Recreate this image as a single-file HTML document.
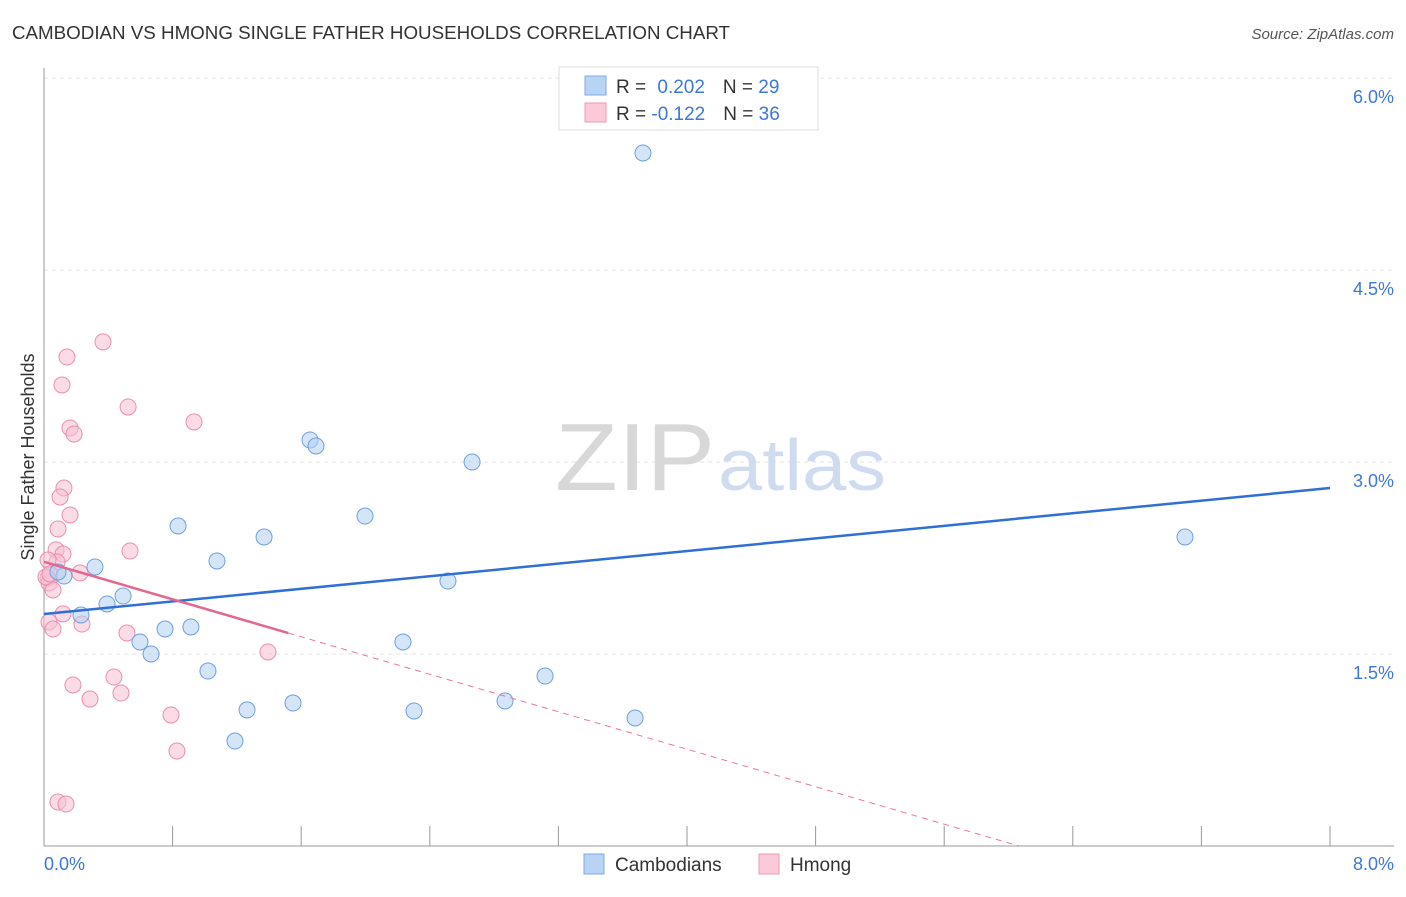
<!DOCTYPE html>
<html><head><meta charset="utf-8"><style>
body{margin:0;background:#fff;font-family:"Liberation Sans",sans-serif;}
svg text{font-family:"Liberation Sans",sans-serif;}
</style></head><body>
<svg id="chart" width="1406" height="892" xmlns="http://www.w3.org/2000/svg">
<text x="12" y="39" font-size="18" fill="#333" textLength="718" lengthAdjust="spacingAndGlyphs">CAMBODIAN VS HMONG SINGLE FATHER HOUSEHOLDS CORRELATION CHART</text>
<text x="1394" y="39" font-size="15" fill="#555" font-style="italic" text-anchor="end">Source: ZipAtlas.com</text>
<g id="grid"></g>
<text x="555" y="490" font-size="96" fill="#d8d8d8" textLength="160" lengthAdjust="spacingAndGlyphs" font-family="Liberation Serif">ZIP</text>
<text x="718" y="490" font-size="72" fill="#cfdcf0" textLength="168" lengthAdjust="spacingAndGlyphs">atlas</text>
<line x1="44" y1="68" x2="44" y2="846" stroke="#999"/>
<line x1="44" y1="846" x2="1394" y2="846" stroke="#999"/>
<g id="xticks"></g>
<g id="ylabels"></g>
<text x="44" y="870" font-size="18" fill="#3b78d8">0.0%</text>
<text x="1394" y="870" font-size="18" fill="#3b78d8" text-anchor="end">8.0%</text>
<text transform="translate(34,457) rotate(-90)" font-size="18" fill="#333" text-anchor="middle">Single Father Households</text>
<g id="points"></g>
<g id="lines"></g>
<g>
<rect x="559" y="67" width="259" height="63" fill="#fff" stroke="#ddd"/>
<rect x="585" y="76" width="21" height="19" fill="#b9d3f5" stroke="#7fa9e4"/>
<rect x="585" y="103" width="21" height="19" fill="#fbc9d8" stroke="#ee9ab5"/>
<text x="616" y="93" font-size="19" fill="#333">R = <tspan fill="#3b78d8" dx="6">0.202</tspan><tspan dx="18" fill="#333">N = </tspan><tspan fill="#3b78d8">29</tspan></text>
<text x="616" y="120" font-size="19" fill="#333">R = <tspan fill="#3b78d8">-0.122</tspan><tspan dx="18" fill="#333">N = </tspan><tspan fill="#3b78d8">36</tspan></text>
</g>
<g>
<rect x="584" y="854" width="20" height="20" fill="#b9d3f5" stroke="#7fa9e4"/>
<text x="615" y="871" font-size="19" fill="#333">Cambodians</text>
<rect x="759" y="854" width="20" height="20" fill="#fbc9d8" stroke="#ee9ab5"/>
<text x="790" y="871" font-size="19" fill="#333">Hmong</text>
</g>
</svg>
<script>
const yTicks=[1.5,3.0,4.5,6.0];
const yTickLabels=["1.5%","3.0%","4.5%","6.0%"];
const xTicks=[0,0.8,1.6,2.4,3.2,4.0,4.8,5.6,6.4,7.2,8.0];
const cambX=[3.726,1.655,1.692,2.663,1.997,0.834,1.369,7.098,1.076,0.317,0.124,0.087,2.513,0.492,0.392,0.230,0.753,0.914,0.597,0.666,2.233,1.020,3.117,1.549,1.263,2.302,2.868,3.677,1.188];
const cambY=[5.414,3.172,3.125,3.000,2.578,2.500,2.414,2.414,2.227,2.180,2.109,2.141,2.070,1.953,1.891,1.805,1.695,1.711,1.594,1.500,1.594,1.367,1.328,1.117,1.063,1.055,1.133,1.000,0.820];
const hmX=[0.367,0.143,0.112,0.523,0.933,0.162,0.187,0.124,0.100,0.162,0.087,0.535,0.075,0.118,0.081,0.025,0.224,0.025,0.031,0.056,0.118,0.236,0.031,0.056,0.516,1.393,0.435,0.180,0.479,0.286,0.790,0.827,0.087,0.137,0.012,0.037];
const hmY=[3.938,3.820,3.602,3.430,3.313,3.266,3.219,2.797,2.727,2.586,2.477,2.305,2.313,2.281,2.219,2.234,2.133,2.094,2.055,2.000,1.813,1.734,1.750,1.695,1.664,1.516,1.320,1.258,1.195,1.148,1.023,0.742,0.344,0.328,2.102,2.125];
const cambLine=[1.8125,0.123];   // intercept, slope
const hmLine=[2.22,-0.366];
const hmSolidEnd=1.52;
const X=v=>44+v*160.75, Y=v=>846-v*128;
const NS="http://www.w3.org/2000/svg";
function mk(tag,attrs,parent){const e=document.createElementNS(NS,tag);for(const k in attrs)e.setAttribute(k,attrs[k]);document.getElementById(parent).appendChild(e);return e;}
yTicks.forEach((t,i)=>{
 const l=mk('line',{x1:44,x2:1394,y1:Y(t),y2:Y(t),stroke:'#e3e3e3','stroke-dasharray':'4,4'},'grid');
 
 
 const tx=mk('text',{x:1394,y:Y(t)+25,'font-size':18,fill:'#3b78d8','text-anchor':'end'},'ylabels');
 tx.textContent=yTickLabels[i];
 
 
});
xTicks.forEach(t=>{
 const l=mk('line',{x1:X(t),x2:X(t),y1:826,y2:846,stroke:'#999'},'xticks');
 
 
});
hmX.forEach((x,i)=>{
 const c=mk('circle',{cx:X(x),cy:Y(hmY[i]),r:8,fill:'#f8bfd1','fill-opacity':0.55,stroke:'#eb8eae','stroke-width':1},'points');
 
 
});
cambX.forEach((x,i)=>{
 const c=mk('circle',{cx:X(x),cy:Y(cambY[i]),r:8,fill:'#b3cff3','fill-opacity':0.55,stroke:'#6f9fe0','stroke-width':1},'points');
 
 
});
let l=mk('line',{x1:X(0),y1:Y(cambLine[0]),x2:X(8),y2:Y(cambLine[0]+8*cambLine[1]),stroke:'#2f6fd6','stroke-width':2.5},'lines');


const hEnd=-hmLine[0]/hmLine[1];
l=mk('line',{x1:X(hmSolidEnd),y1:Y(hmLine[0]+hmSolidEnd*hmLine[1]),x2:X(hEnd),y2:Y(0),stroke:'#e8789c','stroke-width':1,'stroke-dasharray':'6,5'},'lines');


l=mk('line',{x1:X(0),y1:Y(hmLine[0]),x2:X(hmSolidEnd),y2:Y(hmLine[0]+hmSolidEnd*hmLine[1]),stroke:'#e2688f','stroke-width':2.5},'lines');


</script>
</body></html>
